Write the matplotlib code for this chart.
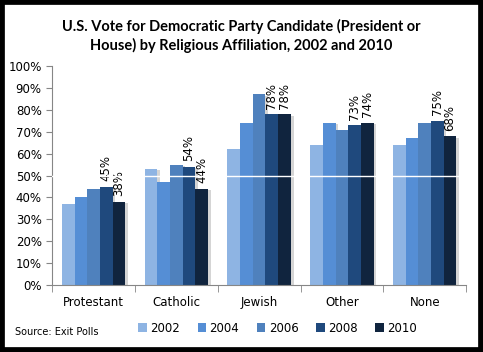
import matplotlib
matplotlib.use("Agg")
import matplotlib.pyplot as plt
import matplotlib.patheffects as pe
from matplotlib.patches import Rectangle, Patch
import numpy as np

categories = ["Protestant", "Catholic", "Jewish", "Other", "None"]
years = ["2002", "2004", "2006", "2008", "2010"]
v2002 = [37, 53, 62, 64, 64]
v2004 = [40, 47, 74, 74, 67]
v2006 = [44, 55, 87, 71, 74]
v2008 = [45, 54, 78, 73, 75]
v2010 = [38, 44, 78, 74, 68]
series = [v2002, v2004, v2006, v2008, v2010]
colors = ["#8EB4E3", "#558ED5", "#4F81BD", "#1F497D", "#10243E"]
title = "U.S. Vote for Democratic Party Candidate (President or\nHouse) by Religious Affiliation, 2002 and 2010"

fig = plt.figure(figsize=(4.83, 3.52), dpi=100)
fig.patch.set_facecolor("white")
fig.add_artist(Rectangle((0, 0), 1, 1, transform=fig.transFigure, fill=False,
                         edgecolor="black", linewidth=7, zorder=10))

ax = fig.add_axes([0.108, 0.190, 0.857, 0.6225])
x = np.arange(len(categories))
w = 0.153
for i, (vals, c) in enumerate(zip(series, colors)):
    pos = x + (i - 2) * w
    bars = ax.bar(pos, [v / 100 for v in vals], width=w, color=c, zorder=2)
    for b in bars:
        b.set_path_effects([pe.SimplePatchShadow(offset=(2, -1), shadow_rgbFace="#888888", alpha=0.35), pe.Normal()])
    if i >= 3:
        for p, v in zip(pos, vals):
            ax.annotate(f"{v}%", (p, v / 100), xytext=(0, 4), textcoords="offset points",
                        rotation=90, ha="center", va="bottom", fontsize=8.5, color="black",
                        family="DejaVu Sans")

ax.axhline(0.5, color="white", lw=1, zorder=3)
ax.set_ylim(0, 1)
ax.set_xlim(-0.5, 4.5)
ax.set_yticks(np.arange(0, 1.01, 0.1))
ax.set_yticklabels([f"{int(round(t*100))}%" for t in np.arange(0, 1.01, 0.1)], fontsize=8.5)
ax.set_xticks(x)
ax.set_xticklabels(categories, fontsize=8.5)
ax.tick_params(axis="x", length=0, pad=8)
ax.set_xticks(np.arange(-0.5, 5, 1), minor=True)
ax.tick_params(axis="x", which="minor", length=5, color="#868686")
ax.tick_params(axis="y", length=4, color="#868686")
for s in ["top", "right"]:
    ax.spines[s].set_visible(False)
for s in ["left", "bottom"]:
    ax.spines[s].set_color("#868686")

fig.text(0.5, 0.945, title, ha="center", va="top", fontsize=10.5, fontweight="bold",
         family="Lato", linespacing=1.3)
fig.text(0.032, 0.057, "Source: Exit Polls", fontsize=7, family="DejaVu Sans", va="center")
handles = [Patch(facecolor=c, label=y) for c, y in zip(colors, years)]
fig.legend(handles=handles, loc="center", bbox_to_anchor=(0.575, 0.068), ncol=5, frameon=False,
           handlelength=0.7, handleheight=0.7, handletextpad=0.3, columnspacing=1.5,
           prop={"size": 8.5, "family": "DejaVu Sans"})
fig.savefig("out.png", dpi=100)
